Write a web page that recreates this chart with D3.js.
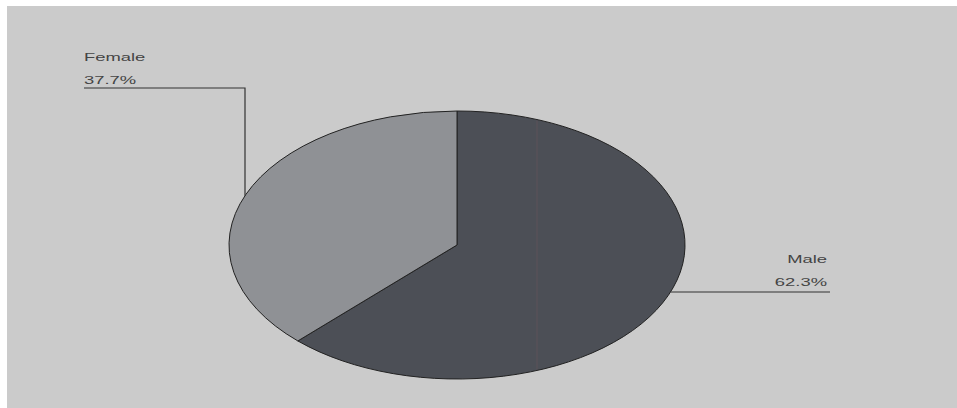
<!DOCTYPE html>
<html>
<head>
<meta charset="utf-8">
<script src="https://cdn.jsdelivr.net/npm/d3@7"></script>
<style>
  html, body { margin: 0; padding: 0; background: #fff; }
  svg { display: block; }
</style>
</head>
<body>
<svg width="957" height="408"></svg>
<script>
// dati del grafico
const categories = ["Male", "Female"];
const values = [62.3, 37.7];
const valueLabels = ["62.3%", "37.7%"];
const colors = ["#4c4f56", "#8f9195"];

const svg = d3.select("svg");
const width = +svg.attr("width");
const height = +svg.attr("height");

// sfondo grigio della scansione, bordo bianco in alto e a sinistra
svg.append("rect")
  .attr("x", 7).attr("y", 6)
  .attr("width", width - 7).attr("height", height - 6)
  .attr("fill", "#cbcbcb");

// la torta è un cerchio schiacciato in orizzontale -> ellisse
const cx = 457, cy = 245, rx = 228, ry = 134;

const pie = d3.pie().sort(null).value(d => d);
const arcs = pie(values);
const arc = d3.arc().innerRadius(0).outerRadius(1);

const g = svg.append("g")
  .attr("transform", `translate(${cx},${cy}) scale(${rx},${ry})`);

g.selectAll("path")
  .data(arcs)
  .join("path")
  .attr("d", arc)
  .attr("fill", (d, i) => colors[i])
  .attr("stroke", "#222")
  .attr("stroke-width", 1)
  .attr("vector-effect", "non-scaling-stroke");

// punto sul bordo dell'ellisse per un dato x (metà superiore/inferiore)
function edgeY(x, upper) {
  const t = (x - cx) / rx;
  const dy = ry * Math.sqrt(Math.max(0, 1 - t * t));
  return upper ? cy - dy : cy + dy;
}
function edgeX(y, right) {
  const t = (y - cy) / ry;
  const dx = rx * Math.sqrt(Math.max(0, 1 - t * t));
  return right ? cx + dx : cx - dx;
}

// riga rossastra della scansione dentro la fetta Male
svg.append("line")
  .attr("x1", 537).attr("x2", 537)
  .attr("y1", edgeY(537, true) + 1).attr("y2", edgeY(537, false) - 1)
  .attr("stroke", "#6e555b").attr("stroke-width", 1).attr("opacity", 0.5);

// etichette con linee guida
const labels = [
  { name: categories[0], pct: valueLabels[0], anchor: "end", tx: 827, y1: 263, y2: 286,
    line: [[edgeX(292, true), 292], [830, 292]] },
  { name: categories[1], pct: valueLabels[1], anchor: "start", tx: 84, y1: 61, y2: 84,
    line: [[84, 88], [245, 88], [245, edgeY(245, true)]] }
];

const line = d3.line();
svg.selectAll("path.leader")
  .data(labels)
  .join("path")
  .attr("class", "leader")
  .attr("d", d => line(d.line))
  .attr("fill", "none")
  .attr("stroke", "#333")
  .attr("stroke-width", 1.2);

const sx = 1.6;
labels.forEach(d => {
  const t = svg.append("g")
    .attr("transform", `translate(${d.tx},0) scale(${sx},1)`)
    .attr("font-family", "Liberation Sans, Arial, sans-serif")
    .attr("font-size", 11.5)
    .attr("fill", "#444")
    .attr("text-anchor", d.anchor);
  t.append("text").attr("y", d.y1).text(d.name);
  t.append("text").attr("y", d.y2).text(d.pct);
});
</script>
</body>
</html>
